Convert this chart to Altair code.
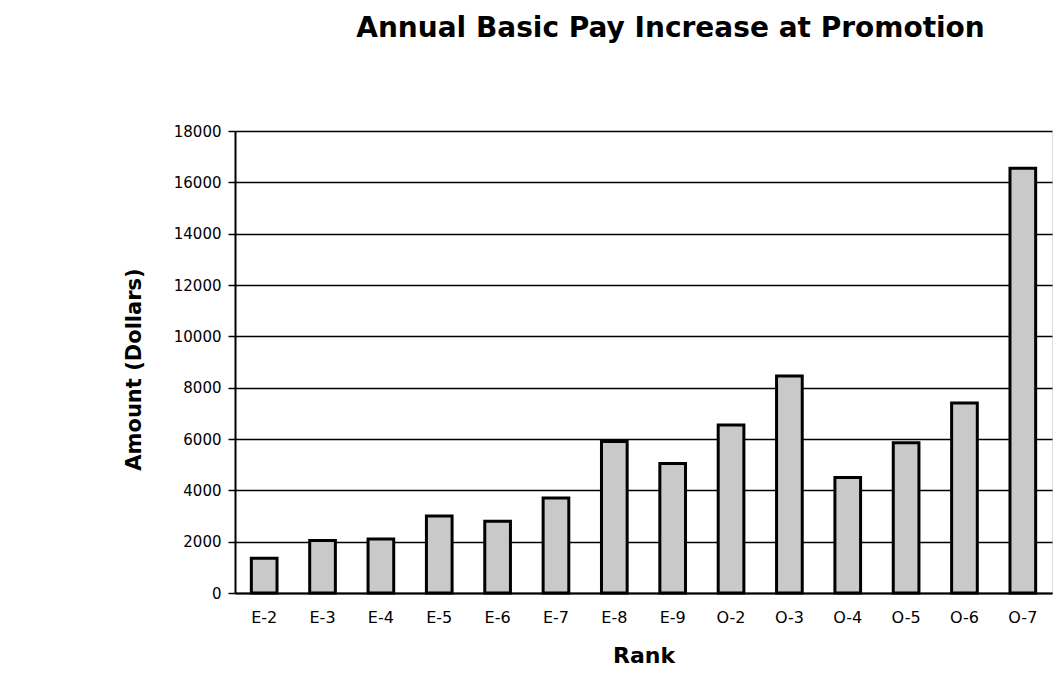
import altair as alt
import pandas as pd

ranks = ["E-2", "E-3", "E-4", "E-5", "E-6", "E-7", "E-8", "E-9",
         "O-2", "O-3", "O-4", "O-5", "O-6", "O-7"]
amounts = [1350, 2050, 2100, 3000, 2800, 3700, 5900, 5050,
           6550, 8450, 4500, 5850, 7400, 16550]
y_ticks = [0, 2000, 4000, 6000, 8000, 10000, 12000, 14000, 16000, 18000]

df = pd.DataFrame({"Rank": ranks, "Amount": amounts})

FONT = "DejaVu Sans"

chart = alt.Chart(df).mark_bar(
    fill="#c9c9c9", stroke="black", strokeWidth=3
).encode(
    x=alt.X("Rank:N", sort=ranks,
            scale=alt.Scale(paddingInner=0.56, paddingOuter=0.28),
            axis=alt.Axis(title="Rank", labelAngle=0, ticks=False,
                          labelPadding=16, labelFontSize=16, labelFont=FONT,
                          labelColor="black", domainColor="black", domainWidth=2,
                          titleFont=FONT, titleFontSize=22, titleFontWeight="bold",
                          titleColor="black", titleY=62, titleBaseline="middle")),
    y=alt.Y("Amount:Q",
            scale=alt.Scale(domain=[0, 18000], nice=False),
            axis=alt.Axis(title="Amount (Dollars)", values=y_ticks, format="d",
                          grid=True, gridColor="black", gridWidth=1.5,
                          tickSize=7, tickColor="black", tickWidth=1.5,
                          labelPadding=7, labelFontSize=15, labelFont=FONT,
                          labelColor="black", domainColor="black", domainWidth=2,
                          titleFont=FONT, titleFontSize=21, titleFontWeight="bold",
                          titleColor="black", titleX=-101, titleY=238,
                          titleAlign="center", titleBaseline="middle", titleAngle=-90))
).properties(
    width=817,
    height=462,
    title=alt.TitleParams(
        "Annual Basic Pay Increase at Promotion",
        font=FONT, fontSize=28, fontWeight="bold", color="black",
        anchor="middle", dx=27, offset=81
    ),
    autosize=alt.AutoSizeParams(type="none"),
    padding={"left": 227, "top": 123, "right": 4, "bottom": 80}
).configure_view(
    fill="#d9d9d9", stroke="#333333", strokeWidth=1.5
).configure(background="white")

chart.save("out.html", embed_options={"renderer": "svg", "actions": False})
